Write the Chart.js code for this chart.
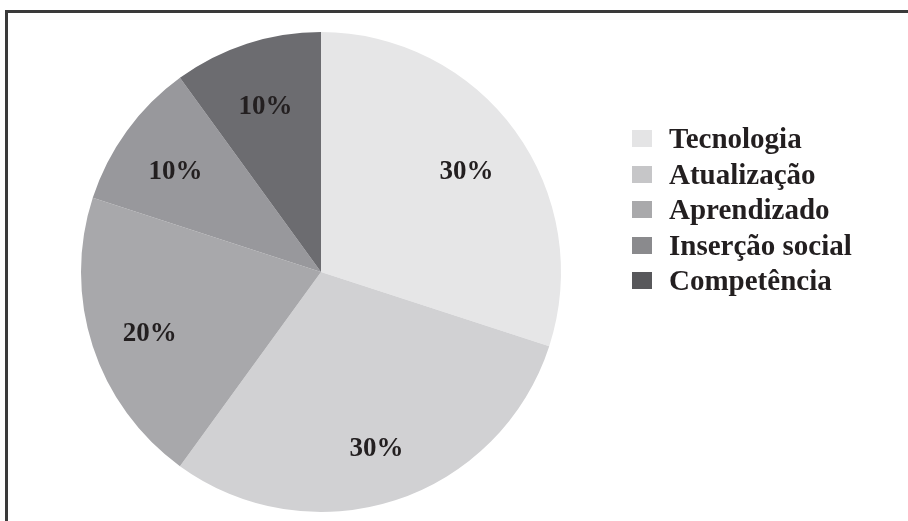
<!DOCTYPE html>
<html>
<head>
<meta charset="utf-8">
<script src="https://cdn.jsdelivr.net/npm/chart.js@4"></script>
<style>
  html, body { margin: 0; padding: 0; background: #fff; }
  #wrap { position: relative; width: 908px; height: 521px; overflow: hidden; }
  #frame { position: absolute; left: 5px; top: 10px; width: 1000px; height: 1000px;
           border-left: 3px solid #3a3a3a; border-top: 3px solid #3a3a3a; }
  #chart { position: absolute; left: 0; top: 0; }
  #legend { position: absolute; left: 632px; top: 121px; font-family: "Liberation Serif", "DejaVu Serif", serif;
            font-weight: bold; font-size: 29px; color: #231f20; }
  .row { height: 35.5px; display: flex; align-items: center; }
  .box { width: 20px; height: 17px; margin-right: 17px; }
</style>
</head>
<body>
<div id="wrap">
  <div id="frame"></div>
  <canvas id="chart" width="908" height="521"></canvas>
  <div id="legend"></div>
</div>
<script>
const categories = ["Tecnologia", "Atualização", "Aprendizado", "Inserção social", "Competência"];
const shares = [30, 30, 20, 10, 10];
const sliceColors = ["#e6e6e7", "#d1d1d3", "#a8a8ab", "#98989c", "#6c6c70"];
const legendColors = ["#e4e4e5", "#c6c6c8", "#a9a9ab", "#8a8a8d", "#58585b"];

// percent labels on the slices
const sliceLabels = {
  id: "sliceLabels",
  afterDatasetsDraw(chart) {
    const ctx = chart.ctx;
    const meta = chart.getDatasetMeta(0);
    ctx.save();
    ctx.font = "bold 27px 'Liberation Serif', 'DejaVu Serif', serif";
    ctx.fillStyle = "#231f20";
    ctx.textAlign = "center";
    ctx.textBaseline = "middle";
    meta.data.forEach((arc, i) => {
      const mid = (arc.startAngle + arc.endAngle) / 2;
      const r = arc.outerRadius * 0.75;
      ctx.fillText(shares[i] + "%", arc.x + Math.cos(mid) * r, arc.y + Math.sin(mid) * r + 6);
    });
    ctx.restore();
  }
};

new Chart(document.getElementById("chart").getContext("2d"), {
  type: "pie",
  data: {
    labels: categories,
    datasets: [{
      data: shares,
      backgroundColor: sliceColors,
      borderWidth: 0
    }]
  },
  options: {
    responsive: false,
    animation: false,
    layout: { padding: { left: 81, top: 32, right: 347, bottom: 9 } },
    plugins: {
      legend: { display: false },
      tooltip: { enabled: false }
    }
  },
  plugins: [sliceLabels]
});

const legend = document.getElementById("legend");
categories.forEach((name, i) => {
  const row = document.createElement("div");
  row.className = "row";
  row.innerHTML = '<div class="box" style="background:' + legendColors[i] + '"></div><span>' + name + '</span>';
  legend.appendChild(row);
});
</script>
</body>
</html>
